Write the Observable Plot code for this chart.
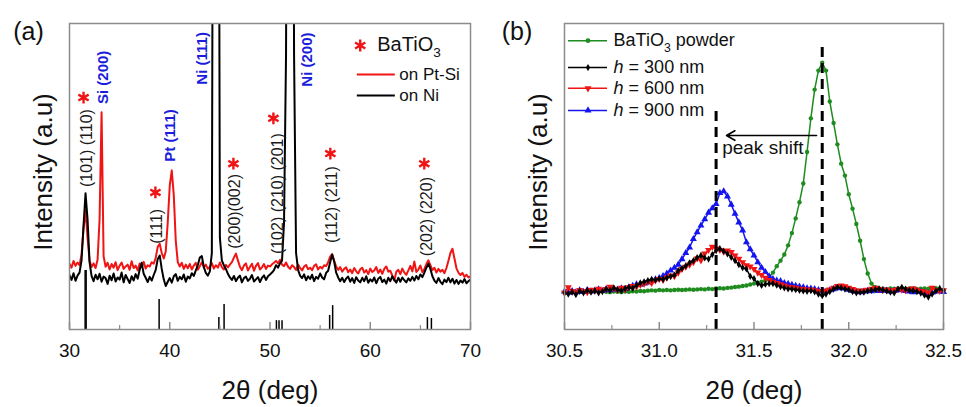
<!DOCTYPE html>
<html><head><meta charset="utf-8">
<script src="https://cdn.jsdelivr.net/npm/d3@7"></script>
<script src="https://cdn.jsdelivr.net/npm/@observablehq/plot@0.6"></script>
<style>
body{margin:0;background:#fff;}
#wrap{position:relative;width:966px;height:407px;overflow:hidden;font-family:"Liberation Sans",Arial,sans-serif;}
#wrap svg{position:absolute;top:0;}
</style></head><body><div id="wrap"></div>
<script>
// ---------- Panel (a): XRD patterns, 2θ grid 30..70 step 0.2 ----------
const thetaA = d3.range(201).map(i => +(30 + i * 0.2).toFixed(1));
const onPtSi = [
 21.5,20.2,22.4,20.8,21.9,21.0,24.5,33.0,39.0,30.0,
 22.5,20.4,21.6,20.1,22.8,36.0,71.0,24.0,20.5,21.8,
 19.6,21.4,20.2,22.0,19.4,20.8,21.9,19.8,20.6,21.2,
 19.5,22.3,20.1,20.9,19.3,21.6,20.4,22.1,19.9,21.0,
 20.6,22.0,21.5,23.4,27.0,28.0,25.0,23.2,25.5,35.0,
 47.0,52.0,44.0,29.0,22.0,20.6,21.8,19.8,21.2,20.0,
 21.4,19.6,20.9,21.8,19.5,20.7,22.0,20.3,21.2,19.8,
 20.5,21.7,19.9,21.0,20.2,21.9,20.4,19.6,21.1,20.3,
 21.2,22.0,23.5,24.8,22.6,20.5,19.4,20.9,21.6,19.3,
 20.4,21.5,19.2,20.8,21.7,19.6,20.3,21.4,19.8,20.9,
 20.6,21.3,21.8,22.4,21.6,22.8,21.2,20.7,21.9,20.5,
 19.8,21.0,20.4,19.5,21.2,20.1,19.3,20.6,21.1,19.7,
 20.2,19.4,20.8,21.3,19.6,20.5,19.9,21.0,20.7,22.0,
 23.8,24.6,22.5,20.6,19.5,20.4,18.9,19.8,20.3,18.7,
 19.6,18.4,20.1,19.0,18.3,19.7,20.2,18.6,19.4,18.1,
 19.9,18.8,19.3,20.4,18.5,19.6,18.2,19.8,20.6,18.9,
 19.2,17.6,16.0,18.9,19.5,18.1,19.9,18.6,17.9,19.3,
 20.8,19.0,22.2,18.8,19.6,20.9,18.7,19.8,21.4,22.6,
 21.0,19.4,20.2,18.6,19.8,18.9,19.5,18.4,20.1,22.5,
 25.0,26.4,23.2,20.0,18.6,17.8,18.5,17.2,17.9,17.0,
 17.4];
const onNi = [
 17.8,16.2,18.4,15.9,17.6,18.6,22.5,34.0,44.5,36.0,
 22.0,17.5,15.8,17.9,16.4,18.2,15.6,17.3,16.8,14.9,
 17.6,16.1,18.3,15.7,17.0,16.3,18.6,15.4,17.8,16.5,
 15.2,17.4,16.0,18.1,16.6,19.5,21.8,18.2,16.9,15.5,
 17.2,16.0,17.8,19.5,23.0,24.2,19.8,16.4,14.2,15.6,
 16.8,15.3,17.4,18.1,15.9,17.2,16.4,18.0,15.6,17.3,
 16.7,18.4,17.5,19.3,21.0,23.5,24.0,20.4,18.5,17.6,
 19.0,25.0,300,300,300,30.0,22.5,21.0,19.8,18.2,
 17.0,16.2,17.5,15.8,16.9,17.6,15.4,16.8,17.3,15.9,
 16.6,17.8,15.7,16.4,17.1,15.5,16.9,17.7,16.2,17.4,
 18.0,18.6,19.4,21.0,20.2,21.6,22.5,35.0,90.0,300,
 300,300,90.0,25.0,19.5,17.6,16.8,18.0,16.1,17.4,
 16.5,17.9,15.8,17.2,16.6,18.3,17.0,16.4,18.5,19.2,
 22.0,24.5,22.2,18.6,17.0,15.8,16.9,15.5,16.7,17.3,
 15.6,16.8,15.2,17.1,16.0,15.4,16.9,15.8,17.4,15.3,
 16.4,15.7,17.0,15.1,16.6,17.2,15.5,16.3,15.0,16.9,
 15.8,17.4,16.2,15.3,16.9,15.6,17.0,16.1,15.4,16.7,
 15.9,17.2,16.0,17.5,16.4,18.0,17.1,18.6,20.2,21.5,
 19.8,17.4,16.0,15.2,16.8,15.6,14.8,16.3,15.5,16.9,
 15.4,16.6,15.0,16.2,14.9,16.0,15.3,16.5,15.1,15.8,
 16.3];
// reference stick pattern
const refPos = [31.56,31.66,38.94,44.90,45.42,50.64,50.90,51.20,55.95,56.25,65.70,66.10];
const refInt = [19.3,19.3,9.8,3.9,8.2,2.9,2.9,2.9,4.6,7.8,3.9,3.6];
// hkl labels
const hklText = ["(101) (110)","(111)","(200)(002)","(102) (210) (201)","(112) (211)","(202) (220)"];
const hklX = [31.70,38.74,46.45,50.74,56.22,65.69];
const hklY = [59.3,33.7,38.6,44.4,40.8,36.9];
const starX = [31.40,38.57,46.35,50.34,56.02,65.39];
const starY = [75.8,44.8,54.2,69.0,57.5,54.2];
// substrate peak labels
const subText = ["Si (200)","Pt (111)","Ni (111)","Ni (200)"];
const subX = [33.39,40.07,43.23,53.70];
const subY = [82.4,63.4,88.6,88.2];
// legend (a)
const legAText = ["on Pt-Si","on Ni"];
const legAY = [83.3,76.5];

// ---------- Panel (b): zoom on (101)/(110) peak, 2θ grid 30.50..32.50 step 0.02 ----------
const thetaB = d3.range(101).map(i => +(30.5 + i * 0.02).toFixed(2));
const powder = [null,null,null,null,null,null,null,null,null,null,null,
 12.3,12.2,12.4,12.3,12.2,12.4,12.3,12.5,12.4,12.6,
 12.5,12.7,12.8,12.7,12.9,12.8,12.9,12.8,12.9,13.0,
 12.9,13.0,13.1,13.0,13.1,13.2,13.1,13.3,13.2,13.4,
 13.5,13.4,13.6,13.7,13.9,14.0,14.2,14.4,14.7,15.0,
 15.3,15.6,16.1,17.1,18.6,20.7,22.5,24.5,27.5,31.5,
 36.3,41.6,47.7,58.0,69.0,78.4,84.6,87.2,84.6,74.5,
 67.5,60.5,54.2,50.3,44.2,39.5,34.5,29.0,23.0,18.3,
 15.0,13.8,13.4,13.3,13.2,13.4,13.3,13.4,13.5,13.3,
 13.4,13.3,13.2,13.3,13.4,13.3,13.6,13.5,null,null];
const h300 = [
 12.0,11.6,12.2,11.4,12.5,12.0,12.8,12.2,12.6,12.0,
 12.4,13.2,12.8,13.6,13.0,12.7,13.4,13.8,13.5,14.4,
 15.2,15.6,16.0,16.4,16.2,16.6,16.4,16.9,17.3,17.8,
 19.2,20.0,20.8,21.8,22.5,23.5,24.2,23.4,23.0,24.5,
 25.8,26.4,25.6,24.7,23.6,22.5,21.2,20.2,19.8,17.4,
 16.6,15.0,14.4,14.8,15.0,15.0,14.5,14.0,13.6,13.3,
 13.2,13.0,12.8,12.6,12.5,12.7,12.3,11.6,11.1,11.6,
 12.4,13.2,13.8,13.6,13.2,13.0,12.4,12.0,12.2,12.2,
 12.6,12.8,13.0,13.3,12.9,12.6,12.2,12.0,13.2,13.8,
 13.2,12.8,12.7,12.4,11.9,11.2,10.6,11.6,12.6,13.4,
 12.8];
const h600 = [
 12.0,13.8,12.6,12.2,12.9,12.5,12.2,13.0,12.7,13.3,
 12.8,13.2,14.0,13.3,12.9,13.6,13.1,13.8,14.2,14.0,
 14.6,15.0,15.5,15.2,16.0,16.5,16.2,17.0,17.6,17.4,
 18.6,19.8,20.5,21.2,22.0,23.2,22.6,24.8,26.0,27.0,
 26.5,26.0,25.4,25.8,25.3,24.2,23.1,22.0,21.0,20.6,
 19.8,18.6,17.8,16.9,16.2,15.6,15.2,14.8,14.4,14.0,
 13.8,13.6,13.3,13.2,13.0,13.1,12.8,12.6,12.4,12.7,
 13.1,13.6,14.2,14.4,14.1,13.6,13.2,12.8,12.6,12.8,
 13.0,13.3,13.6,13.2,12.9,13.1,12.7,12.9,13.2,13.0,
 12.8,13.2,13.5,13.0,12.6,12.4,12.0,13.6,12.9,12.6,
 12.8];
const h900 = [
 12.4,12.0,12.6,12.2,12.8,12.3,12.9,12.4,12.7,13.1,
 12.6,13.2,12.8,13.3,13.0,13.5,13.2,13.8,14.3,14.8,
 14.6,15.0,15.4,15.9,16.4,16.8,17.5,18.3,19.3,20.2,
 21.2,23.0,25.0,26.8,29.6,31.8,34.0,36.0,38.2,39.6,
 41.0,44.6,45.2,43.5,40.8,37.8,35.0,32.4,28.5,26.2,
 24.2,22.0,20.2,18.8,17.4,16.5,16.0,15.8,15.2,14.9,
 14.6,14.3,14.0,13.8,13.5,13.4,13.2,12.9,12.5,12.4,
 12.8,13.2,13.5,13.6,13.4,13.0,12.6,12.4,12.2,12.4,
 12.6,12.5,12.8,12.6,12.9,12.7,12.4,12.6,12.8,13.0,
 12.6,12.4,12.2,12.5,12.3,12.0,11.6,12.1,12.4,12.6,
 12.3];
const legBText = ["BaTiO_3 powder","~h~ = 300 nm","~h~ = 600 nm","~h~ = 900 nm"];
const legBY = [94.4,85.6,78.8,71.6];
const peakPos = [31.30,31.86];
const peakTop = [71.6,93.5];
const shiftFrom = 31.83, shiftTo = 31.355, shiftY = 63.4;

// ---------- styling ----------
const RED = "#f01414", BLACK = "#000", GREEN = "#1e8c1e", BLUE = "#1414f0", LABBLUE = "#1c1cdc", GRAY = "#8c8c8c";
const FONT = "Liberation Sans, Arial, sans-serif";

const dataA = thetaA.map((x, i) => ({x, red: onPtSi[i], black: onNi[i]}));
const refData = refPos.map((x, i) => ({x, y: refInt[i]}));
const hklData = hklText.map((t, i) => ({t, x: hklX[i], y: hklY[i]}));
const starData = starX.map((x, i) => ({x, y: starY[i]}));
const subData = subText.map((t, i) => ({t, x: subX[i], y: subY[i]}));
const legA = [{t: legAText[0], y: legAY[0], c: RED}, {t: legAText[1], y: legAY[1], c: BLACK}];

function axisMarks(major, minor, fmt, h) {
  return [
    Plot.frame({stroke: GRAY, strokeWidth: 1.5}),
    Plot.ruleX(major, {x: d => d, insetTop: h - 7, stroke: GRAY, strokeWidth: 1.5}),
    Plot.ruleX(minor, {x: d => d, insetTop: h - 4, stroke: GRAY, strokeWidth: 1.2}),
    Plot.text(major, {x: d => d, text: d => fmt(d), frameAnchor: "bottom", lineAnchor: "middle", textAnchor: "middle", dy: 21, fontSize: 19, fill: "#111"}),
    Plot.text(["2θ (deg)"], {frameAnchor: "bottom", lineAnchor: "middle", textAnchor: "middle", dy: 61, fontSize: 26, fill: "#111"}),
    Plot.text(["Intensity (a.u)"], {frameAnchor: "left", rotate: -90, lineAnchor: "middle", textAnchor: "middle", dx: -26, dy: -4.5, fontSize: 26, fill: "#111"})
  ];
}

const plotA = Plot.plot({
  width: 480, height: 407, marginLeft: 69, marginRight: 10, marginTop: 23, marginBottom: 78,
  x: {domain: [30, 70], axis: null}, y: {domain: [0, 100], axis: null},
  style: {fontFamily: FONT, background: "transparent", overflow: "visible"},
  marks: [
    Plot.ruleX(refData, {x: "x", y1: 0, y2: "y", stroke: BLACK, strokeWidth: 1.5}),
    Plot.line(dataA, {x: "x", y: "red", stroke: RED, strokeWidth: 2, clip: true}),
    Plot.line(dataA, {x: "x", y: "black", stroke: BLACK, strokeWidth: 2, clip: true}),
    ...axisMarks([30, 40, 50, 60, 70], [35, 45, 55, 65], d3.format("d"), 306),
    Plot.text(hklData, {x: "x", y: "y", text: "t", rotate: -90, fontSize: 16, fill: "#1a1a1a"}),
    Plot.dot(starData, {x: "x", y: "y", symbol: "asterisk", r: 5.6, stroke: RED, fill: "none", strokeWidth: 2.4}),
    Plot.text(subData, {x: "x", y: "y", text: "t", rotate: -90, fontSize: 15, fontWeight: "bold", fill: LABBLUE}),
    // legend
    Plot.dot([{x: 59.0, y: 92.8}], {x: "x", y: "y", symbol: "asterisk", r: 5.6, stroke: RED, fill: "none", strokeWidth: 2.4}),
    Plot.text(["BaTiO_3"], {x: () => 60.7, y: () => 93.0, textAnchor: "start", fontSize: 20, fill: "#111"}),
    Plot.ruleY(legA, {y: "y", x1: 58.71, x2: 62.5, stroke: "c", strokeWidth: 2}),
    Plot.text(legA, {x: () => 62.9, y: "y", text: "t", textAnchor: "start", fontSize: 17, fill: "#111"}),
    Plot.text(["(a)"], {frameAnchor: "top-left", textAnchor: "middle", lineAnchor: "middle", dx: -41, dy: 8, fontSize: 25, fill: "#111"})
  ]
});

const dataB = thetaB.map((x, i) => ({x, g: powder[i], k: h300[i], r: h600[i], b: h900[i]}));
const legB = legBText.map((t, i) => ({t, y: legBY[i], i}));
const legColors = [GREEN, BLACK, RED, BLUE];

const plotB = Plot.plot({
  width: 486, height: 407, marginLeft: 84, marginRight: 23, marginTop: 23, marginBottom: 78,
  x: {domain: [30.5, 32.5], axis: null}, y: {domain: [0, 100], axis: null},
  style: {fontFamily: FONT, background: "transparent", overflow: "visible"},
  marks: [
    Plot.line(dataB, {x: "x", y: "g", stroke: GREEN, strokeWidth: 1.5}),
    Plot.dot(dataB, {x: "x", y: "g", r: 2.2, fill: GREEN, stroke: "none", symbol: "circle"}),
    Plot.line(dataB, {x: "x", y: "b", stroke: BLUE, strokeWidth: 1.5}),
    Plot.dot(dataB, {x: "x", y: "b", r: 2.6, fill: BLUE, stroke: "none", symbol: "triangle"}),
    Plot.line(dataB, {x: "x", y: "r", stroke: RED, strokeWidth: 1.5}),
    Plot.dot(dataB, {x: "x", y: "r", r: 2.6, fill: RED, stroke: "none", symbol: "triangle", rotate: 180}),
    Plot.line(dataB, {x: "x", y: "k", stroke: BLACK, strokeWidth: 1.5}),
    Plot.dot(dataB, {x: "x", y: "k", r: 2.2, fill: BLACK, stroke: "none", symbol: "diamond"}),
    Plot.ruleX(peakPos.map((x, i) => ({x, top: peakTop[i]})), {x: "x", y1: 0, y2: "top", stroke: BLACK, strokeWidth: 3, strokeDasharray: "10,6"}),
    Plot.arrow([{a: shiftFrom, b: shiftTo, y: shiftY}], {x1: "a", x2: "b", y1: "y", y2: "y", stroke: BLACK, strokeWidth: 1.6, headLength: 9}),
    Plot.text(["peak shift"], {x: () => 31.332, y: () => 59.2, textAnchor: "start", fontSize: 19, fill: "#111"}),
    ...axisMarks([30.5, 31.0, 31.5, 32.0, 32.5], [30.75, 31.25, 31.75, 32.25], d3.format(".1f"), 306),
    // legend
    Plot.ruleY(legB, {y: "y", x1: 30.521, x2: 30.727, stroke: d => legColors[d.i], strokeWidth: 1.5}),
    Plot.dot(legB.filter(d => d.i === 0), {x: () => 30.624, y: "y", r: 2.4, fill: GREEN, symbol: "circle"}),
    Plot.dot(legB.filter(d => d.i === 1), {x: () => 30.624, y: "y", r: 2.2, fill: BLACK, symbol: "diamond"}),
    Plot.dot(legB.filter(d => d.i === 2), {x: () => 30.624, y: "y", r: 2.6, fill: RED, symbol: "triangle", rotate: 180}),
    Plot.dot(legB.filter(d => d.i === 3), {x: () => 30.624, y: "y", r: 2.6, fill: BLUE, symbol: "triangle"}),
    Plot.text(legB, {x: () => 30.759, y: "y", text: "t", textAnchor: "start", fontSize: 18, fill: "#111"}),
    Plot.text(["(b)"], {frameAnchor: "top-left", textAnchor: "middle", lineAnchor: "middle", dx: -47.5, dy: 8, fontSize: 25, fill: "#111"})
  ]
});

const wrap = document.getElementById("wrap");
plotA.style.left = "0px";
plotB.style.left = "480px";
wrap.appendChild(plotA);
wrap.appendChild(plotB);

// rich text: _3 -> subscript, ~h~ -> italic
function richify(svg) {
  d3.select(svg).selectAll("text").each(function() {
    const el = this, t = el.textContent;
    if (!/_\d|~[^~]+~/.test(t)) return;
    const fs = parseFloat(getComputedStyle(el).fontSize) || 16;
    el.textContent = "";
    let shift = 0;
    for (const p of t.split(/(_\d|~[^~]+~)/).filter(s => s !== "")) {
      const ts = document.createElementNS("http://www.w3.org/2000/svg", "tspan");
      if (p[0] === "_") {
        ts.textContent = p.slice(1);
        ts.setAttribute("font-size", (fs * 0.68).toFixed(1));
        ts.setAttribute("dy", (fs * 0.3).toFixed(1));
        shift = fs * 0.3;
      } else {
        ts.textContent = p[0] === "~" ? p.slice(1, -1) : p;
        if (p[0] === "~") ts.setAttribute("font-style", "italic");
        if (shift) { ts.setAttribute("dy", (-shift).toFixed(1)); shift = 0; }
      }
      el.appendChild(ts);
    }
  });
}
richify(plotA);
richify(plotB);
</script>
</body></html>
